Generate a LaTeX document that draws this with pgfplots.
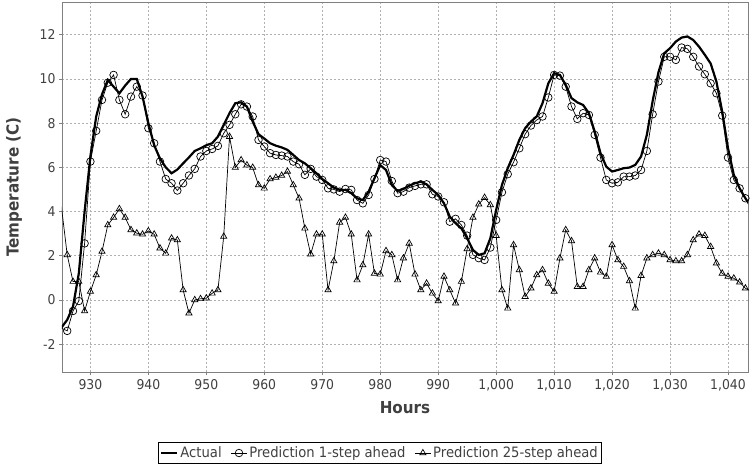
\documentclass[border=0pt]{standalone}
\usepackage{fontspec}
\setmainfont[FakeStretch=0.92]{DejaVu Sans}
\usepackage{pgfplots}
\pgfplotsset{compat=1.18}
\definecolor{txt}{HTML}{404040}
\definecolor{gridc}{HTML}{B0B0B0}
\definecolor{framec}{HTML}{808080}
\pgfplotstableread{
h v
925 -1.25
926 -0.9
927 -0.3
928 1.2
929 4.0
930 6.5
931 8.3
932 9.3
933 9.95
934 9.65
935 9.35
936 9.7
937 10.0
938 10.0
939 9.2
940 8.0
941 7.0
942 6.4
943 6.0
944 5.73
945 5.9
946 6.18
947 6.45
948 6.74
949 6.86
950 7.0
951 7.09
952 7.39
953 7.92
954 8.45
955 8.9
956 8.94
957 8.75
958 8.07
959 7.5
960 7.3
961 7.09
962 6.98
963 6.9
964 6.79
965 6.56
966 6.33
967 6.18
968 5.96
969 5.73
970 5.47
971 5.28
972 5.08
973 4.98
974 4.98
975 4.83
976 4.6
977 4.52
978 4.9
979 5.5
980 6.1
981 5.88
982 5.2
983 4.93
984 5.02
985 5.17
986 5.28
987 5.35
988 5.23
989 4.98
990 4.75
991 4.37
992 3.77
993 3.47
994 3.24
995 2.79
996 2.26
997 2.04
998 2.11
999 2.79
1000 4.07
1001 5.2
1002 5.96
1003 6.56
1004 7.24
1005 7.77
1006 8.07
1007 8.3
1008 8.9
1009 9.8
1010 10.26
1011 10.18
1012 9.73
1013 9.13
1014 8.94
1015 8.82
1016 8.45
1017 7.62
1018 6.64
1019 6.03
1020 5.81
1021 5.88
1022 5.96
1023 5.99
1024 6.11
1025 6.49
1026 7.47
1027 9.0
1028 10.3
1029 11.16
1030 11.39
1031 11.69
1032 11.87
1033 11.92
1034 11.76
1035 11.46
1036 11.09
1037 10.7
1038 9.88
1039 8.52
1040 6.86
1041 5.66
1042 5.05
1043 4.6
1044 4.2
}\actual
\pgfplotstableread{
h v
925 -1.28
926 -1.40
927 -0.5
928 -0.05
929 2.56
930 6.26
931 7.65
932 9.05
933 9.83
934 10.18
935 9.05
936 8.4
937 9.2
938 9.65
939 9.25
940 7.77
941 7.09
942 6.26
943 5.47
944 5.28
945 4.95
946 5.28
947 5.63
948 5.93
949 6.49
950 6.74
951 6.83
952 6.97
953 7.54
954 7.92
955 8.4
956 8.85
957 8.75
958 8.3
959 7.24
960 6.94
961 6.64
962 6.56
963 6.53
964 6.49
965 6.26
966 6.14
967 5.66
968 5.93
969 5.58
970 5.43
971 5.05
972 5.0
973 4.9
974 5.02
975 4.98
976 4.52
977 4.37
978 4.75
979 5.47
980 6.33
981 6.26
982 5.38
983 4.83
984 4.9
985 5.08
986 5.16
987 5.23
988 5.23
989 4.78
990 4.68
991 4.42
992 3.54
993 3.67
994 3.39
995 2.91
996 2.04
997 1.89
998 1.81
999 2.37
1000 3.62
1001 4.87
1002 5.69
1003 6.23
1004 6.86
1005 7.5
1006 7.89
1007 8.14
1008 8.3
1009 9.16
1010 10.18
1011 10.15
1012 9.65
1013 8.75
1014 8.19
1015 8.45
1016 8.37
1017 7.47
1018 6.44
1019 5.43
1020 5.28
1021 5.32
1022 5.58
1023 5.58
1024 5.63
1025 5.88
1026 6.74
1027 8.4
1028 9.88
1029 11.0
1030 11.0
1031 10.86
1032 11.42
1033 11.36
1034 11.0
1035 10.56
1036 10.21
1037 9.8
1038 9.35
1039 8.34
1040 6.44
1041 5.43
1042 5.05
1043 4.6
1044 4.22
}\predone
\pgfplotstableread{
h v
925 4.22
926 2.04
927 0.83
928 0.83
929 -0.5
930 0.38
931 1.13
932 2.19
933 3.39
934 3.73
935 4.12
936 3.73
937 3.17
938 3.02
939 2.97
940 3.12
941 2.97
942 2.34
943 2.11
944 2.79
945 2.71
946 0.45
947 -0.6
948 0.0
949 0.05
950 0.08
951 0.3
952 0.45
953 2.87
954 7.39
955 5.99
956 6.33
957 6.1
958 5.99
959 5.2
960 5.05
961 5.47
962 5.54
963 5.63
964 5.81
965 5.2
966 4.6
967 3.24
968 2.07
969 2.97
970 2.97
971 0.45
972 1.76
973 3.51
974 3.73
975 2.97
976 0.9
977 1.58
978 2.97
979 1.2
980 1.16
981 2.22
982 2.04
983 0.9
984 1.89
985 2.56
986 1.16
987 0.45
988 0.75
989 0.3
990 -0.05
991 1.06
992 0.45
993 -0.15
994 0.83
995 2.31
996 3.73
997 4.33
998 4.63
999 4.3
1000 2.91
1001 0.45
1002 -0.38
1003 2.49
1004 1.36
1005 0.15
1006 0.53
1007 1.13
1008 1.36
1009 0.75
1010 0.38
1011 1.89
1012 3.17
1013 2.67
1014 0.6
1015 0.6
1016 1.36
1017 1.89
1018 1.25
1019 1.06
1020 2.49
1021 1.81
1022 1.51
1023 0.86
1024 -0.38
1025 1.1
1026 1.89
1027 2.04
1028 2.11
1029 2.04
1030 1.81
1031 1.76
1032 1.76
1033 2.04
1034 2.71
1035 2.97
1036 2.91
1037 2.41
1038 1.66
1039 1.2
1040 1.06
1041 0.98
1042 0.8
1043 0.53
1044 0.38
}\predtwentyfive
\begin{document}
\begin{tikzpicture}
\useasboundingbox (0,0) rectangle (750bp,464bp);
\begin{axis}[
  at={(62bp,92bp)}, anchor=south west,
  scale only axis, width=686bp, height=370bp,
  xmin=925.1, xmax=1043.45, ymin=-3.26, ymax=13.48,
  xtick={930,940,...,1040}, ytick={-2,0,...,12},
  /pgf/number format/1000 sep={,},
  /pgf/number format/assume math mode=true,
  grid=major,
  major grid style={gridc, dash pattern=on 2bp off 2bp, line width=0.6bp},
  axis line style={framec, line width=0.8bp},
  tick style={framec, line width=0.6bp},
  tick align=outside, major tick length=3bp,
  xtick pos=bottom, ytick pos=left,
  ticklabel style={font=\fontsize{13.5bp}{15bp}\selectfont, text=txt},
  xticklabel style={yshift=-1bp},
  xlabel={Hours}, ylabel={Temperature (C)},
  label style={font=\fontsize{16.5bp}{19bp}\selectfont\bfseries, text=txt},
  xlabel style={at={(axis description cs:0.5,0)}, anchor=center, yshift=-36bp},
  ylabel style={at={(axis description cs:-0.07,0.5)}, anchor=center},
  legend style={at={(axis description cs:0.4636,-0.219)}, anchor=center,
    draw=black, line width=0.8bp, fill=white,
    font=\fontsize{14.3bp}{16bp}\selectfont, text=txt,
    inner sep=2bp, row sep=0bp,
    /tikz/every even column/.append style={column sep=7bp}},
  legend columns=-1,
  legend image code/.code={\draw[mark repeat=2,mark phase=2,#1] plot coordinates {(0bp,0bp) (8bp,0bp) (16bp,0bp)};},
]
\addplot[black, line width=2.2bp, no markers] table[x=h,y=v] {\actual};
\addlegendentry{Actual}
\addplot[black, line width=0.7bp, mark=o, mark size=3.8bp, mark options={line width=0.7bp, solid}] table[x=h,y=v] {\predone};
\addlegendentry{Prediction 1-step ahead}
\addplot[black, line width=0.7bp, mark=triangle, mark size=3.6bp, mark options={line width=0.7bp, solid}] table[x=h,y=v] {\predtwentyfive};
\addlegendentry{Prediction 25-step ahead}
\end{axis}
\end{tikzpicture}
\end{document}
